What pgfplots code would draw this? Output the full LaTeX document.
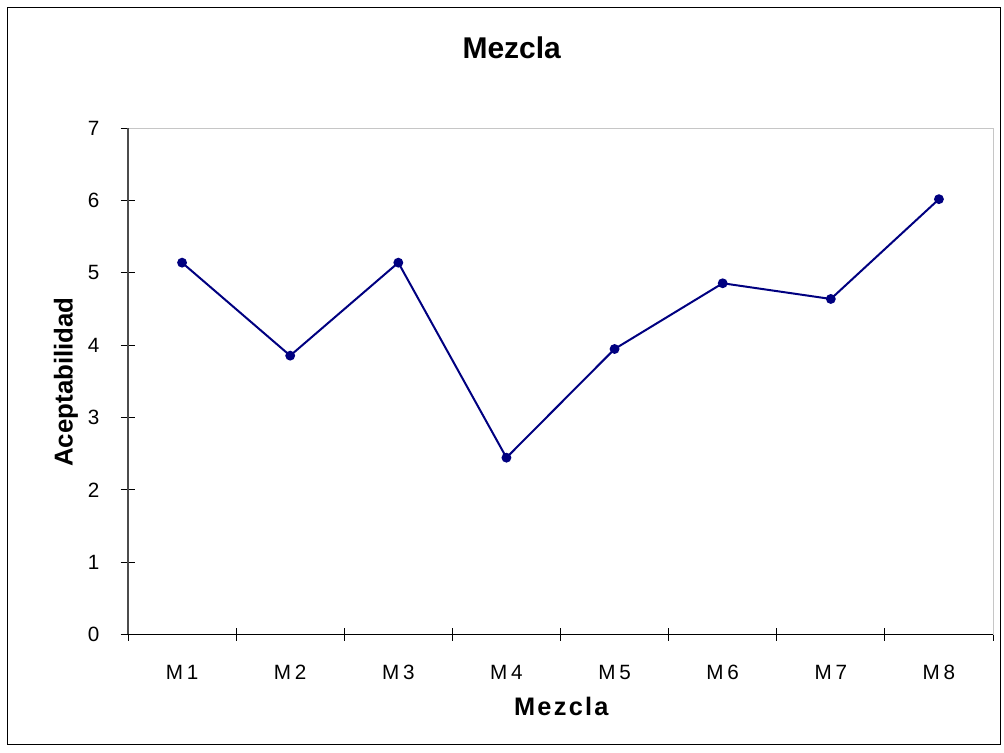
\documentclass[border=0pt]{standalone}
\usepackage{pgfplots}
\pgfplotsset{compat=1.18}
\usepackage{fontspec}
\setmainfont{Liberation Sans}
\definecolor{navy}{RGB}{0,0,128}
\begin{document}
\begin{tikzpicture}
\begin{axis}[
  scale only axis,
  width=648.75pt, height=379.65pt,
  xmin=-0.5, xmax=7.5, ymin=0, ymax=7,
  clip=false,
  axis line style={draw=gray!45, line width=0.75pt},
  ytick={0,1,2,3,4,5,6,7},
  ytick pos=left,
  xtick pos=bottom,
  xtick={0,1,2,3,4,5,6,7},
  xticklabels={M1,M2,M3,M4,M5,M6,M7,M8},
  x tick style={draw=none},
  minor xtick={-0.5,0.5,1.5,2.5,3.5,4.5,5.5,6.5,7.5},
  minor x tick style={draw=black, line width=0.75pt},
  y tick style={draw=black, line width=0.75pt},
  tick align=center,
  major tick length=11pt,
  minor tick length=9.75pt,
  /pgf/number format/assume math mode=true,
  yticklabel style={anchor=east, inner sep=0pt, xshift=-15.75pt, font=\fontsize{15.5}{18}\selectfont},
  xticklabel style={anchor=base, inner sep=0pt, yshift=-28.1pt, font=\fontsize{15.5}{18}\selectfont\addfontfeature{LetterSpace=18}},
]
\addplot[color=navy, line width=1.5pt, mark=*, mark size=2.9pt, mark options={fill=navy, draw=navy}]
  coordinates {(0,5.142) (1,3.856) (2,5.142) (3,2.445) (4,3.948) (5,4.857) (6,4.64) (7,6.02)};
\draw[gray!60!black, line width=1.5pt] (rel axis cs:0,0) -- (rel axis cs:0,1);
\draw[black, line width=1pt] (rel axis cs:0,0) -- (rel axis cs:1,0);
\node[font=\fontsize{22.5}{27}\selectfont\bfseries, anchor=center, yshift=60.5pt] at (rel axis cs:0.4436,1) {Mezcla};
\node[font=\fontsize{19}{23}\selectfont\bfseries\addfontfeature{LetterSpace=9}, anchor=center, yshift=-53.6pt] at (rel axis cs:0.501,0) {Mezcla};
\node[font=\fontsize{19.4}{23}\selectfont\bfseries, anchor=center, xshift=-46.5pt, rotate=90] at (rel axis cs:0,0.4988) {Aceptabilidad};
\end{axis}
\draw[black, line width=0.75pt] ([xshift=-90pt,yshift=-82.875pt]current axis.south west) rectangle ([xshift=5.25pt,yshift=90.225pt]current axis.north east);
\pgfresetboundingbox
\path[use as bounding box] ([xshift=-96pt,yshift=-88.875pt]current axis.south west) rectangle ([xshift=8.25pt,yshift=96.225pt]current axis.north east);
\end{tikzpicture}
\end{document}
